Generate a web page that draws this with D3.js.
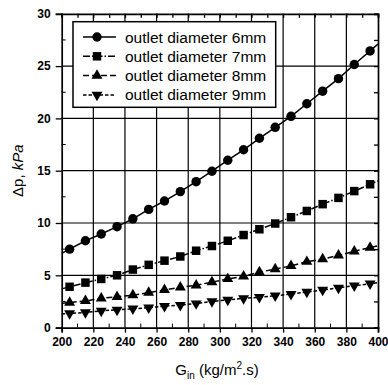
<!DOCTYPE html>
<html>
<head>
<meta charset="utf-8">
<script src="https://cdn.jsdelivr.net/npm/d3@7"></script>
<style>
  html, body { margin: 0; padding: 0; background: #fff; }
  svg { display: block; font-family: "Liberation Sans", Arial, sans-serif; }
</style>
</head>
<body>
<svg id="chart" width="388" height="385"></svg>
<script>
// Mass flux G_in (kg/m².s) at which pressure drop was measured
const gin = [205, 215, 225, 235, 245, 255, 265, 275, 285, 295,
             305, 315, 325, 335, 345, 355, 365, 375, 385, 395];

// Pressure drop Δp (kPa) for each outlet diameter
const dp6mm = [7.5, 8.3, 8.95, 9.65, 10.4, 11.3, 12.1, 13.0, 13.95, 14.95,
               16.0, 17.0, 18.1, 19.15, 20.2, 21.4, 22.6, 23.8, 25.15, 26.45];
const dp7mm = [3.9, 4.3, 4.65, 5.0, 5.55, 6.0, 6.4, 6.8, 7.35, 7.8,
               8.3, 8.85, 9.4, 9.95, 10.55, 11.15, 11.8, 12.4, 13.05, 13.7];
const dp8mm = [2.4, 2.55, 2.8, 2.95, 3.1, 3.35, 3.6, 3.85, 4.05, 4.35,
               4.65, 4.9, 5.3, 5.6, 5.9, 6.3, 6.55, 6.9, 7.3, 7.65];
const dp9mm = [1.35, 1.45, 1.6, 1.7, 1.8, 1.9, 2.05, 2.15, 2.3, 2.5,
               2.65, 2.8, 2.9, 3.05, 3.2, 3.4, 3.6, 3.8, 4.0, 4.2];

const seriesNames = ["outlet diameter 6mm", "outlet diameter 7mm",
                     "outlet diameter 8mm", "outlet diameter 9mm"];

const xTicks = [200, 220, 240, 260, 280, 300, 320, 340, 360, 380, 400];
const yTicks = [0, 5, 10, 15, 20, 25, 30];

const series = [
  { name: seriesNames[0], values: dp6mm, symbol: d3.symbolCircle, size: 70, dash: null },
  { name: seriesNames[1], values: dp7mm, symbol: d3.symbolSquare, size: 72, dash: "7,2,1.5,2" },
  { name: seriesNames[2], values: dp8mm, symbol: d3.symbolTriangle, size: 52, dash: "6,3" },
  { name: seriesNames[3], values: dp9mm, symbol: d3.symbolTriangle, size: 52, dash: "3.5,2", flip: true }
];

const svg = d3.select("#chart");
const margin = { left: 61.7, right: 10, top: 13.8, bottom: 57.4 };
const W = 388, H = 385;
const x = d3.scaleLinear().domain([200, 400]).range([margin.left, W - margin.right]);
const y = d3.scaleLinear().domain([0, 30]).range([H - margin.bottom, margin.top]);
const [x0, x1] = x.range();
const [y0, y1] = y.range();

// clip region for the plot
svg.append("defs").append("clipPath").attr("id", "plotClip")
  .append("rect").attr("x", x0).attr("y", y1).attr("width", x1 - x0).attr("height", y0 - y1);

// grid lines at major ticks
const grid = svg.append("g").attr("stroke", "#000").attr("stroke-width", 1.2);
grid.selectAll("line.gx").data(xTicks.slice(1, -1)).join("line")
  .attr("x1", d => x(d)).attr("x2", d => x(d)).attr("y1", y0).attr("y2", y1);
grid.selectAll("line.gy").data(yTicks.slice(1, -1)).join("line")
  .attr("y1", d => y(d)).attr("y2", d => y(d)).attr("x1", x0).attr("x2", x1);

// axes: major ticks outward on bottom/left, minor ticks inward on all four sides
const minorX = d3.range(210, 400, 20);
const minorY = d3.range(2.5, 30, 5);

const axisB = svg.append("g").attr("transform", `translate(0,${y0})`)
  .call(d3.axisBottom(x).tickValues(xTicks).tickSize(5).tickPadding(5));
axisB.append("g").selectAll("line").data(minorX).join("line")
  .attr("x1", d => x(d)).attr("x2", d => x(d)).attr("y1", 0).attr("y2", -4).attr("stroke", "#000");

const axisL = svg.append("g").attr("transform", `translate(${x0},0)`)
  .call(d3.axisLeft(y).tickValues(yTicks).tickSize(6).tickPadding(5));
axisL.append("g").selectAll("line").data(minorY).join("line")
  .attr("y1", d => y(d)).attr("y2", d => y(d)).attr("x1", 0).attr("x2", 4).attr("stroke", "#000");

const axisT = svg.append("g").attr("transform", `translate(0,${y1})`)
  .call(d3.axisTop(x).tickValues(xTicks.concat(minorX)).tickSize(-4).tickFormat(""));
const axisR = svg.append("g").attr("transform", `translate(${x1},0)`)
  .call(d3.axisRight(y).tickValues(yTicks.concat(minorY)).tickSize(-4).tickFormat(""));

[axisB, axisL, axisT, axisR].forEach(g => {
  g.select(".domain").attr("stroke-width", 1.7);
  g.selectAll(".tick line").attr("stroke-width", 1.3);
  g.selectAll("text").attr("font-size", 12).attr("font-weight", "bold").attr("fill", "#000")
    .attr("font-family", "'Liberation Sans', Arial, sans-serif");
});

// data lines, carried to the plot edges along the end segments
const line = d3.line().x(d => x(d[0])).y(d => y(d[1]));
const plot = svg.append("g").attr("clip-path", "url(#plotClip)");
series.forEach(s => {
  const pts = gin.map((g, i) => [g, s.values[i]]);
  const n = pts.length;
  const slopeA = (pts[1][1] - pts[0][1]) / (pts[1][0] - pts[0][0]);
  const slopeB = (pts[n - 1][1] - pts[n - 2][1]) / (pts[n - 1][0] - pts[n - 2][0]);
  const startPt = [200, pts[0][1] - slopeA * (pts[0][0] - 200)];
  const endPt = [400, pts[n - 1][1] + slopeB * (400 - pts[n - 1][0])];
  plot.append("path").datum([startPt, ...pts, endPt])
    .attr("d", line).attr("fill", "none").attr("stroke", "#000").attr("stroke-width", 1.5)
    .attr("stroke-dasharray", s.dash);
});

// markers
series.forEach(s => {
  const sym = d3.symbol().type(s.symbol).size(s.size);
  svg.append("g").selectAll("path").data(gin.map((g, i) => [g, s.values[i]])).join("path")
    .attr("d", sym)
    .attr("transform", d => `translate(${x(d[0])},${y(d[1])})${s.flip ? " rotate(180)" : ""}`)
    .attr("fill", "#000");
});

// legend
const lg = svg.append("g");
lg.append("rect").attr("x", 73).attr("y", 21.7).attr("width", 202.7).attr("height", 85.6)
  .attr("fill", "#fff").attr("stroke", "#000").attr("stroke-width", 1.5);
series.forEach((s, i) => {
  const ly = 37 + i * 19.3;
  lg.append("line").attr("x1", 83).attr("x2", 116).attr("y1", ly).attr("y2", ly)
    .attr("stroke", "#000").attr("stroke-width", 1.5).attr("stroke-dasharray", s.dash);
  lg.append("path").attr("d", d3.symbol().type(s.symbol).size(s.size))
    .attr("transform", `translate(97,${ly})${s.flip ? " rotate(180)" : ""}`).attr("fill", "#000");
  lg.append("text").attr("x", 125).attr("y", ly).attr("dy", "0.36em")
    .attr("font-size", 15.5).attr("fill", "#000").text(s.name);
});

// axis titles
const yt = svg.append("text").attr("transform", `translate(23,${(y0 + y1) / 2}) rotate(-90)`)
  .attr("text-anchor", "middle").attr("font-size", 15).attr("fill", "#000");
yt.append("tspan").text("Δp, ");
yt.append("tspan").attr("font-style", "italic").text("kPa");

const xt = svg.append("text").attr("x", 217).attr("y", 375)
  .attr("text-anchor", "middle").attr("font-size", 15).attr("fill", "#000");
xt.append("tspan").text("G");
xt.append("tspan").attr("font-size", 10).attr("dy", 4).text("in");
xt.append("tspan").attr("dy", -4).text(" (kg/m");
xt.append("tspan").attr("font-size", 10).attr("dy", -6).text("2");
xt.append("tspan").attr("dy", 6).text(".s)");
</script>
</body>
</html>
